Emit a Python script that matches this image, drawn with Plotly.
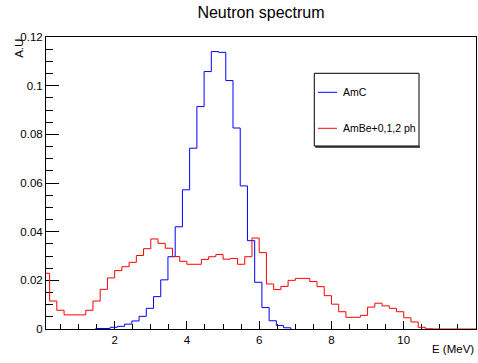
import numpy as np
import plotly.graph_objects as go

# ---------------- data ----------------
bin_width = 0.2

# AmBe+0,1,2 ph (red), bins starting at 0.0 MeV
red_first_edge = 0.0
red_values = [
    0.0229, 0.0115, 0.0077, 0.0058, 0.0058, 0.0058, 0.0077, 0.0115, 0.0163, 0.0210,
    0.0240, 0.0256, 0.0274, 0.0302, 0.0330, 0.0370, 0.0352, 0.0332, 0.0298, 0.0278,
    0.0266, 0.0266, 0.0286, 0.0297, 0.0306, 0.0287, 0.0290, 0.0266, 0.0297, 0.0374,
    0.0314, 0.0185, 0.0162, 0.0175, 0.0200, 0.0208, 0.0208, 0.0195, 0.0174, 0.0137,
    0.0102, 0.0071, 0.0048, 0.0048, 0.0056, 0.0090, 0.0106, 0.0095, 0.0085, 0.0071,
    0.0046, 0.0029, 0.0007, 0.0001, 0.0, 0.0, 0.0, 0.0, 0.0, 0.0,
]

# AmC (blue), bins starting at 1.475 MeV
blue_first_edge = 1.475
blue_values = [
    0.0002, 0.0002, 0.0007, 0.0011, 0.0020, 0.0033, 0.0052, 0.0085, 0.0133, 0.0202,
    0.0297, 0.0420, 0.0572, 0.0743, 0.0914, 0.1058, 0.1140, 0.1137, 0.1021, 0.0826,
    0.0588, 0.0363, 0.0192, 0.0088, 0.0034, 0.0014, 0.0005,
]

series_names = ["AmC", "AmBe+0,1,2 ph"]
series_colors = ["#0000ff", "#ff0000"]

x_tick_vals = [2, 4, 6, 8, 10, 12]
y_tick_vals = [0, 0.02, 0.04, 0.06, 0.08, 0.1, 0.12]
y_tick_text = ["0", "0.02", "0.04", "0.06", "0.08", "0.1", "0.12"]


def step_xy(first_edge, values, close=True):
    edges = first_edge + bin_width * np.arange(len(values) + 1)
    xs = list(edges)
    ys = list(values) + [values[-1]]
    if close:
        xs = [edges[0]] + xs + [edges[-1]]
        ys = [0.0] + ys + [0.0]
    return xs, ys


FONT = "Liberation Sans, Arial, Helvetica, sans-serif"

fig = go.Figure()

bx, by = step_xy(blue_first_edge, blue_values)
rx, ry = step_xy(red_first_edge, red_values, close=False)

fig.add_trace(go.Scatter(x=bx, y=by, mode="lines", line=dict(color=series_colors[0], width=1, shape="hv"),
                         name=series_names[0], showlegend=False, hoverinfo="skip"))
fig.add_trace(go.Scatter(x=rx, y=ry, mode="lines", line=dict(color=series_colors[1], width=1, shape="hv"),
                         name=series_names[1], showlegend=False, hoverinfo="skip"))

# plot geometry (pixels)
W, H = 478, 363
L, R, T, B = 46, 2, 37, 34
pw, ph = W - L - R, H - T - B


def px2paper_x(px):
    return (px - L) / pw


def py2paper_y(py):
    return (H - B - py) / ph


fig.update_layout(
    width=W, height=H,
    margin=dict(l=L, r=R, t=T, b=B, pad=0),
    paper_bgcolor="white", plot_bgcolor="white",
    font=dict(family=FONT, size=11.5, color="black"),
    title=dict(text="Neutron spectrum", x=0.5, xref="paper", xanchor="center",
               y=1 - 12 / H, yref="container", yanchor="middle",
               font=dict(family=FONT, size=16, color="black")),
    showlegend=False,
)

fig.update_xaxes(
    range=[0.1, 12], showgrid=False, zeroline=False,
    showline=True, linecolor="black", linewidth=1, mirror=True,
    ticks="inside", ticklen=8, tickcolor="black", tickwidth=1,
    tickvals=x_tick_vals, ticktext=[str(v) for v in x_tick_vals],
    tickfont=dict(family=FONT, size=11.5, color="black"),
    minor=dict(dtick=0.5, tick0=0, ticks="inside", ticklen=5, tickcolor="black", tickwidth=1),
    layer="below traces",
)
fig.update_yaxes(
    range=[0, 0.12], showgrid=False, zeroline=False,
    showline=True, linecolor="black", linewidth=1, mirror=True,
    ticks="inside", ticklen=13, tickcolor="black", tickwidth=1,
    tickvals=y_tick_vals, ticktext=y_tick_text,
    tickfont=dict(family=FONT, size=11.5, color="black"),
    minor=dict(dtick=0.005, tick0=0, ticks="inside", ticklen=6.5, tickcolor="black", tickwidth=1),
    layer="below traces",
)

# axis titles
fig.add_annotation(text="E (MeV)", xref="paper", yref="paper",
                   x=1.0, y=py2paper_y(349), xanchor="right", yanchor="middle",
                   showarrow=False, font=dict(family=FONT, size=11.5, color="black"))
fig.add_annotation(text="A.U", xref="paper", yref="paper", textangle=-90,
                   x=px2paper_x(18.3), y=1.0, xanchor="center", yanchor="top",
                   showarrow=False, font=dict(family=FONT, size=11.5, color="black"))

# legend box (drawn manually, ROOT TLegend style)
lx0, lx1, ly0, ly1 = 314.3, 419, 73.3, 146
fig.add_shape(type="line", xref="paper", yref="paper",
              x0=px2paper_x(lx0 + 1), x1=px2paper_x(lx1 + 1), y0=py2paper_y(ly1 + 1), y1=py2paper_y(ly1 + 1),
              line=dict(color="#555555", width=2))
fig.add_shape(type="rect", xref="paper", yref="paper",
              x0=px2paper_x(lx0), x1=px2paper_x(lx1), y0=py2paper_y(ly1), y1=py2paper_y(ly0),
              line=dict(color="black", width=1), fillcolor="white")
for name, color, py in zip(series_names, series_colors, [92.3, 128.3]):
    fig.add_shape(type="line", xref="paper", yref="paper",
                  x0=px2paper_x(318), x1=px2paper_x(337), y0=py2paper_y(py), y1=py2paper_y(py),
                  line=dict(color=color, width=1))
    fig.add_annotation(text=name, xref="paper", yref="paper",
                       x=px2paper_x(340.7), y=py2paper_y(py), xanchor="left", yanchor="middle",
                       showarrow=False, font=dict(family=FONT, size=10.5, color="black"))

fig.write_html("out.html")
